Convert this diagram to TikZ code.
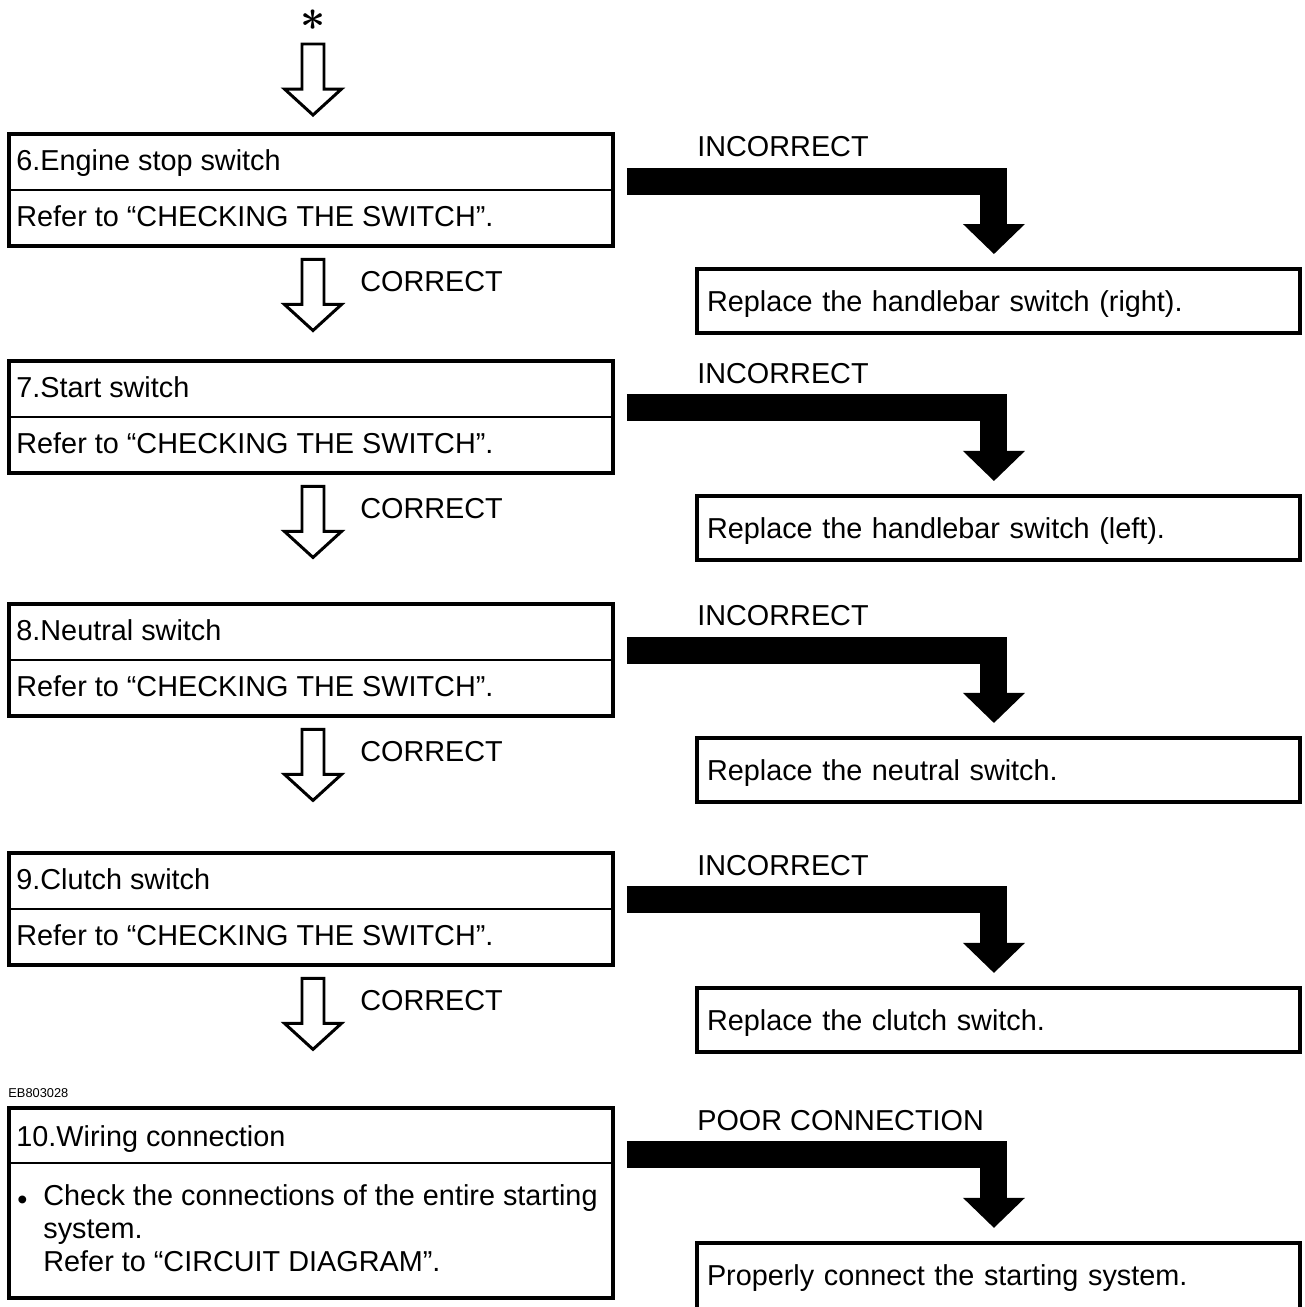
\documentclass[tikz,border=0pt]{standalone}
\usepackage{fontspec}
\setmainfont{Liberation Sans}
\usetikzlibrary{arrows.meta,positioning}
\newcommand{\bodyfont}{\fontsize{16.4}{18.7}\selectfont}
\tikzset{
  % Check box (left column): frame only, texts are placed on it
  lbox/.style={rectangle,draw,line width=2.3pt,
    minimum width=12.08cm,minimum height=2.24cm,
    inner sep=0pt,outer sep=0pt},
  % Remedy box (right column)
  rbox/.style={rectangle,draw,line width=2.3pt,
    text width=11.66cm,align=left,minimum height=1.28cm,
    inner xsep=0.2cm,inner ysep=0pt,outer sep=0pt,
    text height=0.41cm,text depth=0pt,font=\bodyfont},
  % Texts
  ltxt/.style={anchor=base west,inner sep=0pt,font=\bodyfont},
  lbl/.style={anchor=base west,inner sep=0pt,font=\bodyfont},
  % Divider inside a check box
  divl/.style={line width=1.1pt},
  % Black bent arrow (INCORRECT)
  bigarr/.style={line width=0.54cm,
    -{Triangle[length=0.6cm,width=1.24cm,line width=0pt]},
    shorten >=0.3cm},
  % Hollow arrow (CORRECT)
  pics/hollowdown/.style={code={
    \draw[line width=1.7pt] (-11,0) -- (11,0) -- (11,45) -- (28.5,45)
      -- (0,71) -- (-28.5,45) -- (-11,45) -- cycle;}},
}
\begin{document}
\begin{tikzpicture}[x=0.02cm,y=-0.02cm]
  \useasboundingbox (0,0) rectangle (1304,1307);

  % left column
  \node[lbox] (box6) at (311,190) {};
  \node[lbox,below=2.30cm of box6] (box7) {};
  \node[lbox,below=2.62cm of box7] (box8) {};
  \node[lbox,below=2.74cm of box8] (box9) {};
  \node[lbox,below=2.86cm of box9,minimum height=3.8cm] (box10) {};

  \node[ltxt] (h6) at ([shift={(7,-19)}]box6.west) {6.Engine stop switch};
  \node[ltxt] (s6) at ([shift={(7,37)}]box6.west) {Refer to “CHECKING THE SWITCH”.};
  \draw[divl] (box6.west) -- (box6.east);

  \node[ltxt] (h7) at ([shift={(7,-19)}]box7.west) {7.Start switch};
  \node[ltxt] (s7) at ([shift={(7,37)}]box7.west) {Refer to “CHECKING THE SWITCH”.};
  \draw[divl] (box7.west) -- (box7.east);

  \node[ltxt] (h8) at ([shift={(7,-19)}]box8.west) {8.Neutral switch};
  \node[ltxt] (s8) at ([shift={(7,37)}]box8.west) {Refer to “CHECKING THE SWITCH”.};
  \draw[divl] (box8.west) -- (box8.east);

  \node[ltxt] (h9) at ([shift={(7,-19)}]box9.west) {9.Clutch switch};
  \node[ltxt] (s9) at ([shift={(7,37)}]box9.west) {Refer to “CHECKING THE SWITCH”.};
  \draw[divl] (box9.west) -- (box9.east);

  \node[ltxt,font=\fontsize{7.3}{8}\selectfont] (code)
    at ([shift={(-1,-10)}]box10.north west) {EB803028};
  \node[ltxt] (h10) at ([shift={(7,39)}]box10.north west) {10.Wiring connection};
  \draw[divl] ([shift={(0,55)}]box10.north west) -- ([shift={(0,55)}]box10.north east);
  \node[ltxt] (dot10) at ([shift={(8,98)}]box10.north west)
    {\raisebox{-0.14em}{\textbullet}};
  \node[ltxt] (s10a) at ([shift={(34,98)}]box10.north west)
    {Check the connections of the entire starting};
  \node[ltxt] (s10b) at ([shift={(34,131)}]box10.north west) {system.};
  \node[ltxt] (s10c) at ([shift={(34,164)}]box10.north west)
    {Refer to “CIRCUIT DIAGRAM”.};

  % right column
  \node[rbox,anchor=north west] (r6) at (697,269)
    {Replace the handlebar switch (right).};
  \node[rbox,below=3.26cm of r6] (r7) {Replace the handlebar switch (left).};
  \node[rbox,below=3.56cm of r7] (r8) {Replace the neutral switch.};
  \node[rbox,below=3.72cm of r8] (r9) {Replace the clutch switch.};
  \node[rbox,below=3.82cm of r9,minimum height=1.44cm,text depth=0.16cm] (r10)
    {Properly connect the starting system.};

  % start
  \node[inner sep=0pt,font={\fontsize{24}{24}\selectfont\boldmath}] (star)
    at ([shift={(2,-114)}]box6.north) {$\ast$};
  \pic at ([shift={(2,-90)}]box6.north) {hollowdown};

  % CORRECT
  \pic at ([shift={(2,13.5)}]box6.south) {hollowdown};
  \node[lbl] (c6) at ([shift={(49,46)}]box6.south) {CORRECT};
  \pic at ([shift={(2,13.5)}]box7.south) {hollowdown};
  \node[lbl] (c7) at ([shift={(49,46)}]box7.south) {CORRECT};
  \pic at ([shift={(2,13.5)}]box8.south) {hollowdown};
  \node[lbl] (c8) at ([shift={(49,46)}]box8.south) {CORRECT};
  \pic at ([shift={(2,13.5)}]box9.south) {hollowdown};
  \node[lbl] (c9) at ([shift={(49,46)}]box9.south) {CORRECT};

  % INCORRECT
  \node[lbl] (i6) at ([shift={(0,-112)}]r6.north west) {INCORRECT};
  \draw[bigarr] ([shift={(14,47)}]box6.north east) -| ([shift={(-4.5,0)}]r6.north);
  \node[lbl] (i7) at ([shift={(0,-112)}]r7.north west) {INCORRECT};
  \draw[bigarr] ([shift={(14,47)}]box7.north east) -| ([shift={(-4.5,0)}]r7.north);
  \node[lbl] (i8) at ([shift={(0,-112)}]r8.north west) {INCORRECT};
  \draw[bigarr] ([shift={(14,47)}]box8.north east) -| ([shift={(-4.5,0)}]r8.north);
  \node[lbl] (i9) at ([shift={(0,-112)}]r9.north west) {INCORRECT};
  \draw[bigarr] ([shift={(14,47)}]box9.north east) -| ([shift={(-4.5,0)}]r9.north);
  \node[lbl] (i10) at ([shift={(0,-112)}]r10.north west) {POOR CONNECTION};
  \draw[bigarr] ([shift={(14,47)}]box10.north east) -| ([shift={(-4.5,0)}]r10.north);
\end{tikzpicture}
\end{document}
